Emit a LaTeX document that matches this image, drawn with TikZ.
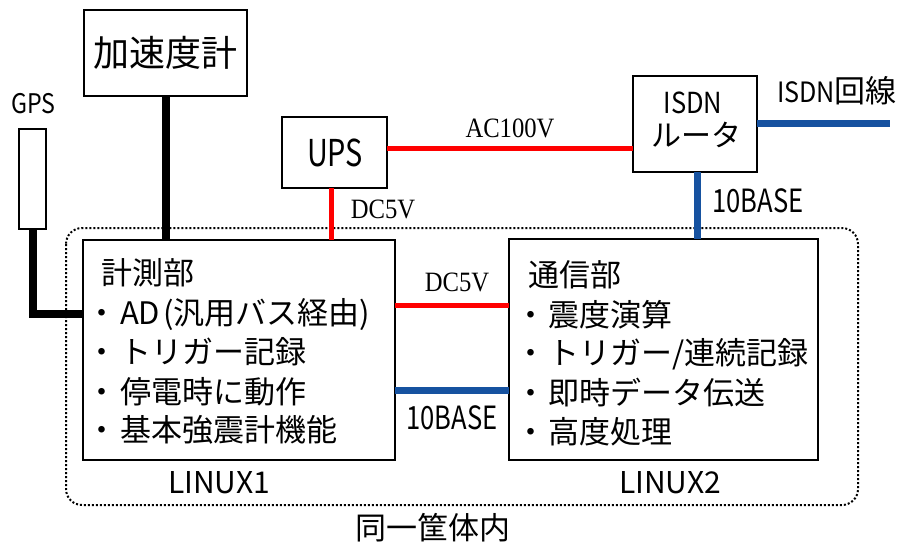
\documentclass[tikz,border=0pt]{standalone}
\usepackage{fontspec}
\usepackage{graphicx}
\setmainfont{Noto Sans CJK JP}
\newfontfamily\serifl{Liberation Serif}
\newcommand\narrowtxt[2]{\scalebox{#1}[1]{#2}}
\definecolor{pwr}{RGB}{255,0,0}
\definecolor{net}{RGB}{22,82,160}
\begin{document}
\begin{tikzpicture}[x=1pt,y=-1pt,
  box/.style={draw=black,line width=2.6pt,inner sep=0pt,outer sep=0pt,fill=white},
  % text node of a given size, vertically centred on its glyphs
  fs/.style={inner sep=0pt,outer sep=0pt,font=\fontsize{#1}{#1}\selectfont,
    text height=0.88*#1pt,text depth=0.12*#1pt},
  item/.style={fs=31,anchor=west},
  dot/.style={fs=31},
  sig/.style={fs=28,font=\fontsize{28}{28}\selectfont\serifl},
  cable/.style={line width=8pt,black},
  power/.style={line width=5pt,pwr},
  lan/.style={line width=7pt,net}]
\useasboundingbox (0,0) rectangle (905,550);

% housing shared by both computers
\draw[line width=2pt,dotted,rounded corners=16pt] (66,228) rectangle (858,505);

% devices
\node[box,minimum width=163pt,minimum height=86pt] (acc) at (165.5,53) {};
\node[fs=36] at (acc) {加速度計};
\node[box,minimum width=27pt,minimum height=100pt] (gpsbox) at (32.5,179) {};
\node[fs=27] (gpslbl) at (33.5,103) {\narrowtxt{0.86}{GPS}};
\node[box,minimum width=105pt,minimum height=71pt] (ups) at (334.5,152.5) {};
\node[fs=37] at (335,152) {\narrowtxt{0.78}{UPS}};
\node[box,minimum width=124pt,minimum height=96pt] (router) at (695,124) {};
\node[fs=29] at (693,102.5) {\narrowtxt{0.88}{ISDN}};
\node[fs=30] at (696,135) {ルータ};

% the two computers
\node[box,minimum width=312pt,minimum height=220pt] (lin1) at (239,350) {};
\node[box,minimum width=309pt,minimum height=221pt] (lin2) at (663.5,349.5) {};

% connections
\draw[cable] (acc.south) -- (acc.south |- lin1.north);
\draw[cable] (gpsbox.south) |- ([yshift=36pt]lin1.west);
\draw[power] ([yshift=4.5pt]ups.east) -- ([yshift=4.5pt]ups.east -| router.west);
\draw[power] ([xshift=-3.5pt]ups.south) -- ([xshift=-3.5pt]ups.south |- lin1.north);
\coordinate (lineend) at (890,123);
\draw[lan] (router.east |- lineend) -- (lineend);
\draw[lan] ([xshift=2pt]router.south) -- ([xshift=2pt]router.south |- lin2.north);
\draw[power] ([yshift=45pt]lin1.east) -- ([yshift=45pt]lin1.east -| lin2.west);
\draw[lan] ([yshift=-40pt]lin1.east) -- ([yshift=-40pt]lin1.east -| lin2.west);

% connection labels
\node[sig] at (510,127) {\narrowtxt{0.88}{AC100V}};
\node[sig] at (383,208) {\narrowtxt{0.88}{DC5V}};
\node[sig] at (457,281) {\narrowtxt{0.88}{DC5V}};
\node[fs=32] at (758,200) {\narrowtxt{0.8}{10BASE}};
\node[fs=32] at (452,417) {\narrowtxt{0.8}{10BASE}};
\node[fs=28,anchor=west] at (777,92) {\narrowtxt{0.9}{ISDN}\fontsize{31}{31}\selectfont 回線};

% measurement unit
\node[item] at (101,273) {計測部};
\foreach \y/\t in {313/{AD\hspace{3pt}(汎用バス経由)},352/トリガー記録,392/停電時に動作,430/基本強震計機能}{
  \node[dot] at (102,\y) {・};
  \node[item] at (120,\y) {\t};
}
% communication unit
\node[item] at (528,275) {通信部};
\foreach \y/\t in {315/震度演算,353/{トリガー/連続記録},393/即時データ伝送,432/高度処理}{
  \node[dot] at (531,\y) {・};
  \node[item] at (548,\y) {\t};
}

% captions
\node[fs=30] at (219,482) {LINUX1};
\node[fs=30] at (670,482) {LINUX2};
\node[fs=31] at (433,528) {同一筐体内};
\end{tikzpicture}
\end{document}
